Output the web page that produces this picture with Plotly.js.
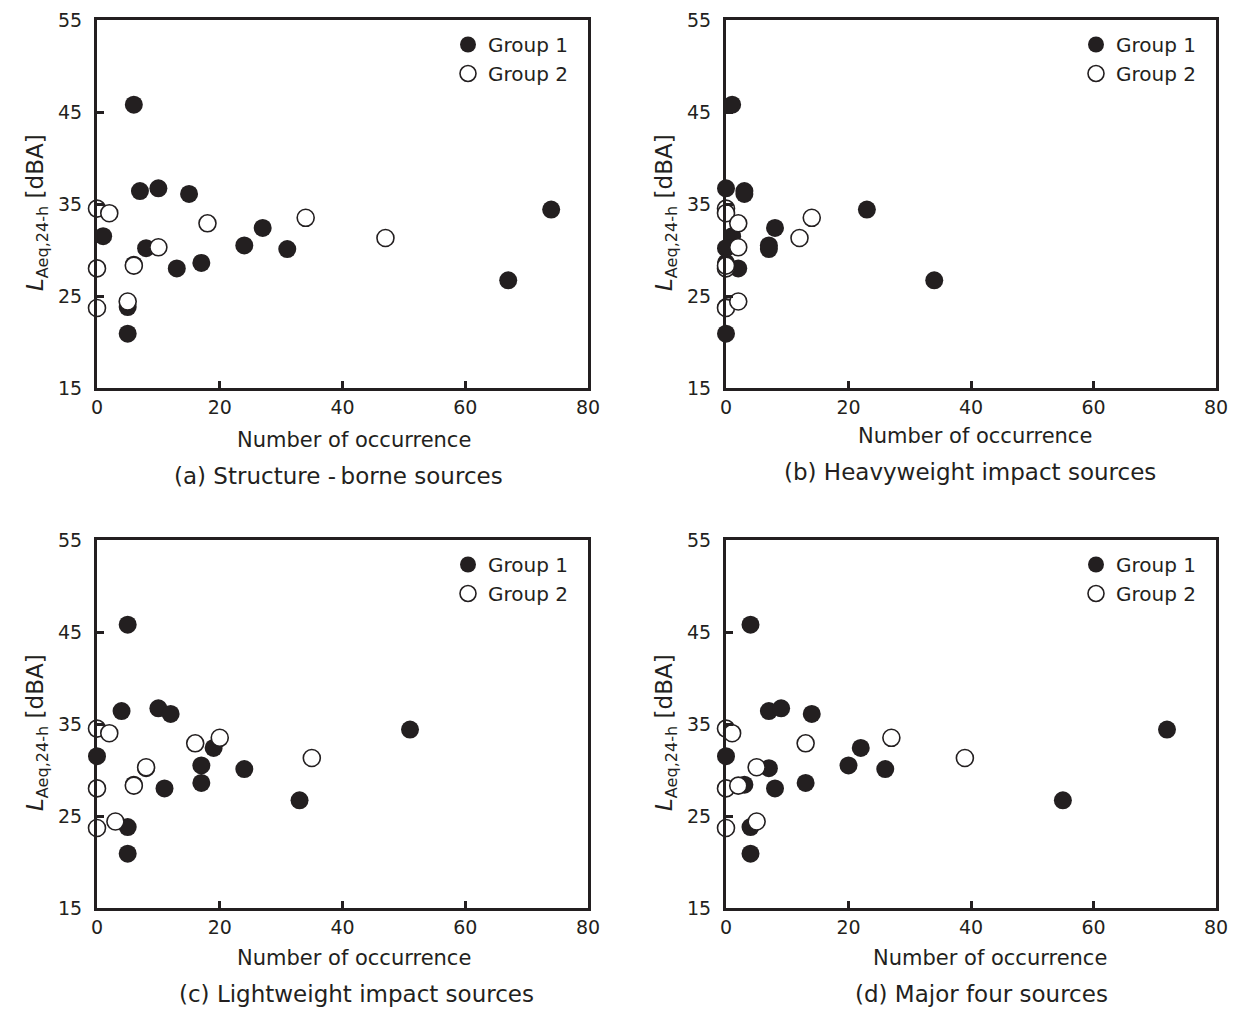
<!DOCTYPE html>
<html>
<head>
<meta charset="utf-8">
<script src="https://cdn.plot.ly/plotly-3.0.1.min.js"></script>
<style>html,body{margin:0;padding:0;background:#fff;}#chart{width:1236px;height:1012px;}</style>
</head>
<body>
<div id="chart"></div>
<script>
// Y values (LAeq,24-h, dBA) shared by every panel
const group1Y = [45.8, 36.4, 36.7, 36.1, 31.5, 30.2, 28.0, 28.6, 30.5, 32.4, 30.1, 23.8, 20.9, 28.4, 34.4, 26.7];
const group2Y = [34.5, 34.0, 32.9, 33.5, 30.3, 28.0, 28.3, 23.7, 24.4, 31.3];

// Number of occurrence per panel
const structureG1 = [6, 7, 10, 15, 1, 8, 13, 17, 24, 27, 31, 5, 5, 6, 74, 67];
const structureG2 = [0, 2, 18, 34, 10, 0, 6, 0, 5, 47];
const heavyG1 = [1, 3, 0, 3, 1, 0, 2, 0, 7, 8, 7, 0, 0, 0, 23, 34];
const heavyG2 = [0, 0, 2, 14, 2, 0, 0, 0, 2, 12];
const lightG1 = [5, 4, 10, 12, 0, 8, 11, 17, 17, 19, 24, 5, 5, 6, 51, 33];
const lightG2 = [0, 2, 16, 20, 8, 0, 6, 0, 3, 35];
const majorG1 = [4, 7, 9, 14, 0, 7, 8, 13, 20, 22, 26, 4, 4, 3, 72, 55];
const majorG2 = [0, 1, 13, 27, 5, 0, 2, 0, 5, 39];

const panelTitles = ["(a) Structure -\u2009borne sources", "(b) Heavyweight impact sources",
                     "(c) Lightweight impact sources", "(d) Major four sources"];
const seriesNames = ["Group 1", "Group 2"];
const xTickVals = [0, 20, 40, 60, 80];
const yTickVals = [15, 25, 35, 45, 55];
const xTitle = "Number of occurrence";
const yTitle = "<i>L</i><sub>Aeq,24-h</sub> [dBA]";

const INK = "#231f20";
const FONT = "DejaVu Sans, Verdana, sans-serif";
const W = 1236, H = 1012;

const panels = [
  {g1: structureG1, g2: structureG2, px: [97, 588], py: [20, 388], titleOff: 88, titleX: 338, xTitleOff: 52, xTitleX: 354},
  {g1: heavyG1, g2: heavyG2, px: [726, 1216], py: [20, 388], titleOff: 84, titleX: 970, xTitleOff: 48, xTitleX: 975},
  {g1: lightG1, g2: lightG2, px: [97, 588], py: [540, 908], titleOff: 86, titleX: 356, xTitleOff: 50, xTitleX: 354},
  {g1: majorG1, g2: majorG2, px: [726, 1216], py: [540, 908], titleOff: 86, titleX: 981, xTitleOff: 50, xTitleX: 990}
];

const traces = [];
const layout = {
  width: W, height: H,
  margin: {l: 0, r: 0, t: 0, b: 0},
  paper_bgcolor: "#fff", plot_bgcolor: "#fff",
  font: {family: FONT, color: INK, size: 19},
  annotations: [],
  showlegend: true
};

panels.forEach((p, i) => {
  const n = i + 1;
  const xa = "x" + (n === 1 ? "" : n), ya = "y" + (n === 1 ? "" : n);
  const legendId = "legend" + (n === 1 ? "" : n);
  traces.push({
    type: "scatter", mode: "markers", x: p.g1, y: group1Y, xaxis: xa, yaxis: ya,
    name: seriesNames[0], legend: legendId, cliponaxis: false, hoverinfo: "x+y",
    marker: {size: 18, color: INK, line: {width: 0}}
  });
  traces.push({
    type: "scatter", mode: "markers", x: p.g2, y: group2Y, xaxis: xa, yaxis: ya,
    name: seriesNames[1], legend: legendId, cliponaxis: false, hoverinfo: "x+y",
    marker: {size: 17, color: "#ffffff", line: {width: 1.6, color: INK}}
  });
  const xd = [p.px[0] / W, p.px[1] / W];
  const yd = [1 - p.py[1] / H, 1 - p.py[0] / H];
  const axCommon = {
    showline: true, linewidth: 3, linecolor: INK, mirror: true,
    ticks: "inside", ticklen: 7, tickwidth: 3, tickcolor: INK,
    showgrid: false, zeroline: false, fixedrange: true,
    tickfont: {family: FONT, size: 19, color: INK}
  };
  layout["xaxis" + (n === 1 ? "" : n)] = Object.assign({}, axCommon, {
    domain: xd, anchor: ya, range: [0, 80], tickvals: xTickVals, ticklabelstandoff: 0
  });
  layout["yaxis" + (n === 1 ? "" : n)] = Object.assign({}, axCommon, {
    domain: yd, anchor: xa, range: [15, 55], tickvals: yTickVals, ticklabelstandoff: 8
  });
  layout[legendId] = {
    x: (p.px[1] - 140) / W, y: 1 - (p.py[0] + 5) / H, xanchor: "left", yanchor: "top",
    bgcolor: "rgba(0,0,0,0)", borderwidth: 0,
    font: {family: FONT, size: 20, color: INK}, itemsizing: "trace"
  };
  // x-axis title
  layout.annotations.push({
    xref: "paper", yref: "paper", x: p.xTitleX / W,
    y: 1 - (p.py[1] + p.xTitleOff) / H, yanchor: "middle", xanchor: "center",
    text: xTitle, showarrow: false,
    font: {family: FONT, size: 21, color: INK}
  });
  // y-axis title
  layout.annotations.push({
    xref: "paper", yref: "paper", x: (p.px[0] - 60) / W,
    y: 1 - ((p.py[0] + p.py[1]) / 2 + 9) / H, yanchor: "middle", xanchor: "center",
    text: yTitle, showarrow: false, textangle: -90,
    font: {family: FONT, size: 23, color: INK}
  });
  // panel caption
  layout.annotations.push({
    xref: "paper", yref: "paper", x: p.titleX / W,
    y: 1 - (p.py[1] + p.titleOff) / H, yanchor: "middle", xanchor: "center",
    text: panelTitles[i], showarrow: false,
    font: {family: FONT, size: 23, color: INK}
  });
});

Plotly.newPlot("chart", traces, layout, {displayModeBar: false, staticPlot: true});
</script>
</body>
</html>
